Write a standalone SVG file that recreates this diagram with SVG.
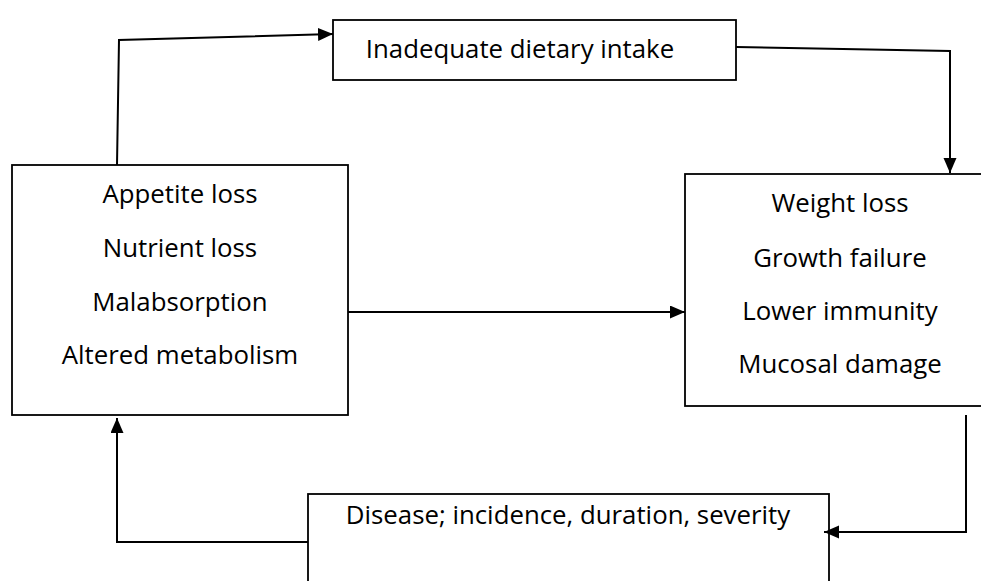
<svg xmlns="http://www.w3.org/2000/svg" width="981" height="581" viewBox="0 0 981 581">
  <style>
    .box { fill: #ffffff; stroke: #000000; stroke-width: 1.8; }
    .lbl { font-family: "Open Sans", "Liberation Sans", sans-serif; font-size: 25.8px; fill: #000000; text-anchor: middle; }
    .conn { fill: none; stroke: #000000; stroke-width: 2; }
  </style>
  <defs>
    <marker id="arr" markerUnits="userSpaceOnUse" markerWidth="16" markerHeight="14" refX="15" refY="6.5" orient="auto">
      <path d="M0,0 L15,6.5 L0,13 z" fill="#000000"/>
    </marker>
  </defs>
  <rect width="981" height="581" fill="#ffffff"/>

  <g id="node-intake">
    <rect class="box" x="333" y="20" width="403" height="60"/>
    <text class="lbl" x="520" y="58">Inadequate dietary intake</text>
  </g>

  <g id="node-causes">
    <rect class="box" x="12" y="165" width="336" height="250"/>
    <text class="lbl" x="180" y="203">Appetite loss</text>
    <text class="lbl" x="180" y="257">Nutrient loss</text>
    <text class="lbl" x="180" y="311">Malabsorption</text>
    <text class="lbl" x="180" y="364">Altered metabolism</text>
  </g>

  <g id="node-effects">
    <rect class="box" x="685" y="174" width="310" height="232"/>
    <text class="lbl" x="840" y="212">Weight loss</text>
    <text class="lbl" x="840" y="267">Growth failure</text>
    <text class="lbl" x="840" y="320">Lower immunity</text>
    <text class="lbl" x="840" y="373">Mucosal damage</text>
  </g>

  <g id="node-disease">
    <rect class="box" x="308" y="494" width="521" height="100"/>
    <text class="lbl" x="568" y="524">Disease; incidence, duration, severity</text>
  </g>

  <g id="connectors">
    <polyline class="conn" points="117,165 119,40 333,34" marker-end="url(#arr)"/>
    <polyline class="conn" points="736,47 950,51 950,173" marker-end="url(#arr)"/>
    <line class="conn" x1="348" y1="312" x2="685" y2="312" marker-end="url(#arr)"/>
    <polyline class="conn" points="966,415 966,532 824,532" marker-end="url(#arr)"/>
    <polyline class="conn" points="308,542 117,542 117,418" marker-end="url(#arr)"/>
  </g>
</svg>
